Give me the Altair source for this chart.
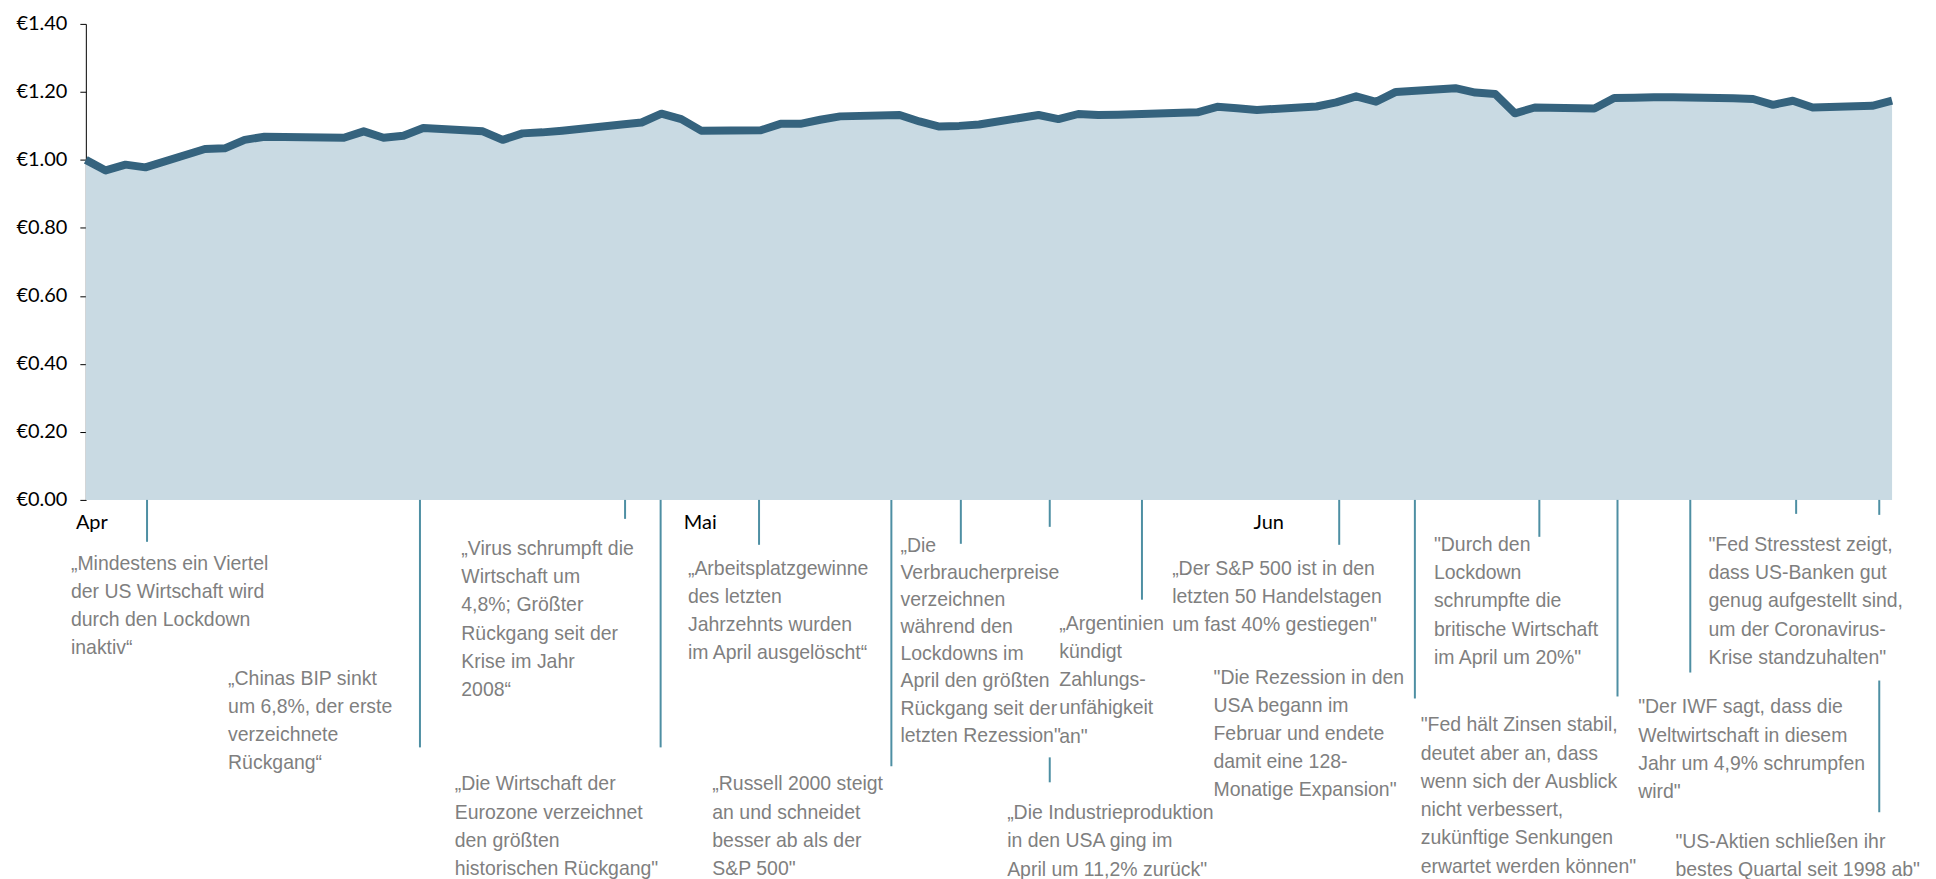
import altair as alt
import pandas as pd

# ---- series (trading days, value of 1 € invested on 31 Mar 2020) ----
dates = [
    "2020-03-31", "2020-04-01", "2020-04-02", "2020-04-03",
    "2020-04-06", "2020-04-07", "2020-04-08", "2020-04-09",
    "2020-04-13", "2020-04-14", "2020-04-15", "2020-04-16", "2020-04-17",
    "2020-04-20", "2020-04-21", "2020-04-22", "2020-04-23", "2020-04-24",
    "2020-04-27", "2020-04-28", "2020-04-29", "2020-04-30", "2020-05-01",
    "2020-05-04", "2020-05-05", "2020-05-06", "2020-05-07", "2020-05-08",
    "2020-05-11", "2020-05-12", "2020-05-13", "2020-05-14", "2020-05-15",
    "2020-05-18", "2020-05-19", "2020-05-20", "2020-05-21", "2020-05-22",
    "2020-05-26", "2020-05-27", "2020-05-28", "2020-05-29",
    "2020-06-01", "2020-06-02", "2020-06-03", "2020-06-04", "2020-06-05",
    "2020-06-08", "2020-06-09", "2020-06-10", "2020-06-11", "2020-06-12",
    "2020-06-15", "2020-06-16", "2020-06-17", "2020-06-18", "2020-06-19",
    "2020-06-22", "2020-06-23", "2020-06-24", "2020-06-25", "2020-06-26",
    "2020-06-29", "2020-06-30",
]
values = [
    1.000, 0.969, 0.986, 0.978,
    1.032, 1.034, 1.059, 1.068,
    1.065, 1.084, 1.065, 1.071, 1.094,
    1.084, 1.059, 1.078, 1.081, 1.086,
    1.104, 1.110, 1.136, 1.120, 1.086,
    1.087, 1.106, 1.106, 1.118, 1.128,
    1.132, 1.113, 1.098, 1.100, 1.104,
    1.132, 1.120, 1.135, 1.132, 1.133,
    1.140, 1.156, 1.152, 1.147,
    1.157, 1.169, 1.187, 1.171, 1.200,
    1.211, 1.198, 1.194, 1.137, 1.154,
    1.151, 1.182, 1.183, 1.184, 1.184,
    1.181, 1.179, 1.162, 1.174, 1.154,
    1.159, 1.174,
]

y_ticks = [0.0, 0.2, 0.4, 0.6, 0.8, 1.0, 1.2, 1.4]

# ---- month labels ----
month_names = ["Apr", "Mai", "Jun"]
month_at = ["2020-03-30T12:00:00", "2020-04-30T03:00:00", "2020-05-28T20:00:00"]

# ---- annotations ----
ann_lines = [
    ["„Mindestens ein Viertel", "der US Wirtschaft wird", "durch den Lockdown", "inaktiv“"],
    ["„Chinas BIP sinkt", "um 6,8%, der erste", "verzeichnete", "Rückgang“"],
    ["„Virus schrumpft die", "Wirtschaft um", "4,8%; Größter", "Rückgang seit der", "Krise im Jahr", "2008“"],
    ["„Die Wirtschaft der", "Eurozone verzeichnet", "den größten", "historischen Rückgang\""],
    ["„Arbeitsplatzgewinne", "des letzten", "Jahrzehnts wurden", "im April ausgelöscht“"],
    ["„Russell 2000 steigt", "an und schneidet", "besser ab als der", "S&P 500\""],
    ["„Die", "Verbraucherpreise", "verzeichnen", "während den", "Lockdowns im",
     "April den größten", "Rückgang seit der", "letzten Rezession\""],
    ["„Argentinien", "kündigt", "Zahlungs-", "unfähigkeit", "an\""],
    ["„Die Industrieproduktion", "in den USA ging im", "April um 11,2% zurück\""],
    ["„Der S&P 500 ist in den", "letzten 50 Handelstagen", "um fast 40% gestiegen\""],
    ["\"Die Rezession in den", "USA begann im", "Februar und endete", "damit eine 128-", "Monatige Expansion\""],
    ["\"Durch den", "Lockdown", "schrumpfte die", "britische Wirtschaft", "im April um 20%\""],
    ["\"Fed hält Zinsen stabil,", "deutet aber an, dass", "wenn sich der Ausblick",
     "nicht verbessert,", "zukünftige Senkungen", "erwartet werden können\""],
    ["\"Der IWF sagt, dass die", "Weltwirtschaft in diesem", "Jahr um 4,9% schrumpfen", "wird\""],
    ["\"Fed Stresstest zeigt,", "dass US-Banken gut", "genug aufgestellt sind,",
     "um der Coronavirus-", "Krise standzuhalten\""],
    ["\"US-Aktien schließen ihr", "bestes Quartal seit 1998 ab\""],
]
ann_at = [
    "2020-03-30T06:00:00", "2020-04-07T04:00:00", "2020-04-18T22:00:00", "2020-04-18T14:00:00",
    "2020-04-30T08:00:00", "2020-05-01T13:30:00", "2020-05-11T01:00:00", "2020-05-19T01:00:00",
    "2020-05-16T10:00:00", "2020-05-24T17:30:00", "2020-05-26T19:30:00", "2020-06-06T22:00:00",
    "2020-06-06T06:00:00", "2020-06-17T05:00:00", "2020-06-20T18:00:00", "2020-06-19T02:00:00",
]
ann_top = [532, 647, 517, 753, 537, 753, 514, 592, 782, 537, 646, 513, 694, 676, 513, 811]
ann_tight = [False, False, False, False, False, False, True, False,
             False, False, False, False, False, False, False, False]

# connector lines (date they point at, pixel span below the plot)
conn_at = [
    "2020-04-03T02:00:00", "2020-04-16T20:00:00", "2020-04-27T04:00:00", "2020-04-28T23:00:00",
    "2020-05-03T22:00:00", "2020-05-10T14:00:00", "2020-05-14T02:00:00", "2020-05-18T13:30:00",
    "2020-05-18T13:30:00", "2020-05-23T05:00:00", "2020-06-02T03:30:00", "2020-06-05T23:00:00",
    "2020-06-12T05:30:00", "2020-06-16T04:00:00", "2020-06-19T20:00:00", "2020-06-25T04:00:00",
    "2020-06-29T08:30:00", "2020-06-29T08:30:00",
]
conn_top = [477, 477, 477, 477, 477, 477, 477, 477, 735, 477, 477, 477, 477, 477, 477, 477, 477, 658]
conn_bottom = [519, 725, 496, 725, 522, 744, 521, 504, 760, 577, 522, 676, 514, 674, 650, 491, 492, 790]

# ---- tables ----
series = pd.DataFrame({"date": [d + "T00:00:00" for d in dates], "value": values})
months = pd.DataFrame({"at": month_at, "label": month_names, "top": [490] * len(month_names)})
notes = pd.DataFrame({
    "at": ann_at,
    "text": ["\n\u00a0\u200a".join(lines) for lines in ann_lines],
    "top": ann_top,
    "tight": ann_tight,
})
connectors = pd.DataFrame({"at": conn_at, "y1": conn_top, "y2": conn_bottom})

x_scale = alt.Scale(
    domain=[alt.DateTime(year=2020, month=3, date=31, hours=0),
            alt.DateTime(year=2020, month=6, date=30, hours=0)],
    nice=False,
)
y_scale = alt.Scale(domain=[0, 1.4], nice=False, zero=True)

LINE = "#35637e"
FILL = "#c9dae3"
CONN = "#4e8fa3"
GREY = "#7f7f7f"
NOTE_FONT = "Liberation Sans"

area = alt.Chart(series).mark_area(color=FILL, opacity=1).encode(
    x=alt.X("date:T", scale=x_scale, axis=None),
    y=alt.Y(
        "value:Q",
        scale=y_scale,
        axis=alt.Axis(
            values=y_ticks,
            labelExpr="'€' + format(datum.value, '.2f')",
            grid=False,
            title=None,
            domainColor="black",
            domainWidth=1,
            tickColor="black",
            tickWidth=1,
            tickSize=6,
            labelPadding=13,
            labelFont="Lato",
            labelFontSize=20,
            labelColor="black",
        ),
    ),
)

line = alt.Chart(series).mark_line(color=LINE, strokeWidth=8, strokeJoin="round").encode(
    x=alt.X("date:T", scale=x_scale, axis=None),
    y=alt.Y("value:Q", scale=y_scale),
)

rules = alt.Chart(connectors).mark_rule(color=CONN, strokeWidth=2).encode(
    x=alt.X("at:T", scale=x_scale, axis=None),
    y=alt.Y("y1:Q", scale=None),
    y2=alt.Y2("y2:Q"),
)

month_text = alt.Chart(months).mark_text(
    align="left", baseline="top", font="Lato", fontSize=20, color="black"
).encode(
    x=alt.X("at:T", scale=x_scale, axis=None),
    y=alt.Y("top:Q", scale=None),
    text="label:N",
)


def note_layer(tight, line_height):
    return alt.Chart(notes).transform_filter(
        alt.datum.tight == tight
    ).mark_text(
        align="left", baseline="top", font=NOTE_FONT, fontSize=19.5,
        lineHeight=line_height, lineBreak="\n", color=GREY,
    ).encode(
        x=alt.X("at:T", scale=x_scale, axis=None),
        y=alt.Y("top:Q", scale=None),
        text="text:N",
    )


notes_regular = note_layer(False, 28.3)
notes_tight = note_layer(True, 27.2)

chart = alt.layer(area, line, rules, month_text, notes_regular, notes_tight).properties(
    width=1810,
    height=477,
    padding={"left": 78, "top": 15, "right": 36, "bottom": 395},
    autosize=alt.AutoSizeParams(type="none"),
    background="white",
).configure_view(strokeWidth=0)

chart.save("out.html", embed_options={"renderer": "svg", "actions": False})
